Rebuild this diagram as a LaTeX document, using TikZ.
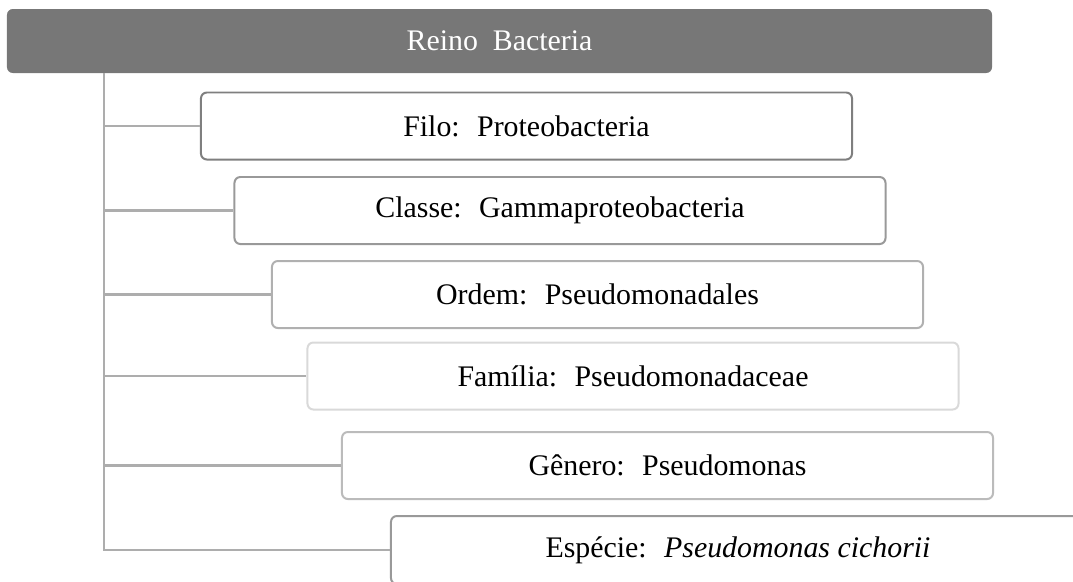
\documentclass[tikz,border=0pt]{standalone}
\usepackage{fontspec}
\setmainfont{Liberation Serif}
\usetikzlibrary{positioning,calc}
\definecolor{bargray}{HTML}{777777}
\definecolor{linkgray}{HTML}{ADADAD}
\definecolor{edgeA}{HTML}{7F7F7F}
\definecolor{edgeB}{HTML}{999999}
\definecolor{edgeC}{HTML}{B0B0B0}
\definecolor{edgeD}{HTML}{D9D9D9}
\definecolor{edgeE}{HTML}{BBBBBB}
\tikzset{
  taxbox/.style={draw, rounded corners=5pt, line width=1.7pt, fill=white, align=center,
                 minimum width=19.53cm, minimum height=2.01cm, inner sep=0pt,
                 font=\fontsize{25.5}{30}\selectfont},
  topbar/.style={taxbox, draw=none, fill=bargray, text=white, minimum width=29.55cm, minimum height=1.92cm},
  link/.style={linkgray, line width=2pt},
}

\begin{document}
\begin{tikzpicture}[x=0.03cm, y=-0.03cm]
    \useasboundingbox (0,0) rectangle (1073,581);
    \node[topbar] (reino) at (499.5,41) {Reino~ Bacteria};
    % trunk below the kingdom bar
    \coordinate (trunk) at (104,73);
    \node[taxbox, draw=edgeA] (filo) at (526.5,126) {Filo:~ Proteobacteria};
    \node[taxbox, draw=edgeB] (classe) at (560,210.5) {Classe:~ Gammaproteobacteria};
    \node[taxbox, draw=edgeC] (ordem) at (597.5,294.5) {Ordem:~ Pseudomonadales};
    \node[taxbox, draw=edgeD] (familia) at (633,376) {Família:~ Pseudomonadaceae};
    \node[taxbox, draw=edgeE] (genero) at (667.5,465.5) {Gênero:~ Pseudomonas};
    \node[taxbox, draw=edgeB, minimum width=20.82cm, minimum height=2.04cm] (especie) at (738,550)
      {Espécie:~ \textit{Pseudomonas cichorii}};
    \foreach \b in {filo,classe,ordem,familia,genero,especie}
      \draw[link] (trunk) |- (\b.west);
\end{tikzpicture}
\end{document}
